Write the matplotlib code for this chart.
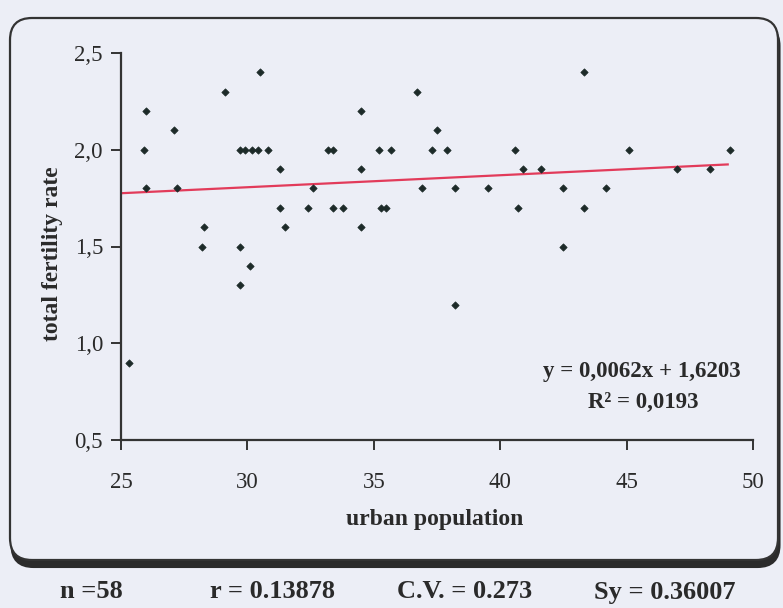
import matplotlib
matplotlib.use("Agg")
import matplotlib.pyplot as plt
from matplotlib.patches import FancyBboxPatch
import numpy as np

# ---- data ----
urban_population = [26.0, 25.9, 26.0, 27.1, 27.2, 29.1, 30.5, 28.3, 28.2, 29.7,
                    29.9, 30.2, 30.4, 30.8, 29.7, 30.1, 29.7, 31.3, 31.3, 31.5,
                    32.6, 32.4, 33.2, 33.4, 33.4, 33.8, 34.5, 34.5, 34.5, 35.2,
                    35.7, 35.3, 35.5, 36.7, 36.9, 37.3, 37.5, 37.9, 38.2, 39.5,
                    43.3, 40.6, 40.9, 41.6, 40.7, 42.5, 42.5, 43.3, 44.2, 45.1,
                    47.0, 48.3, 49.1, 38.2, 25.3]
fertility_rate = [2.2, 2.0, 1.8, 2.1, 1.8, 2.3, 2.4, 1.6, 1.5, 2.0,
                  2.0, 2.0, 2.0, 2.0, 1.5, 1.4, 1.3, 1.9, 1.7, 1.6,
                  1.8, 1.7, 2.0, 2.0, 1.7, 1.7, 2.2, 1.9, 1.6, 2.0,
                  2.0, 1.7, 1.7, 2.3, 1.8, 2.0, 2.1, 2.0, 1.8, 1.8,
                  2.4, 2.0, 1.9, 1.9, 1.7, 1.8, 1.5, 1.7, 1.8, 2.0,
                  1.9, 1.9, 2.0, 1.2, 0.9]
trend_slope = 0.0062
trend_intercept = 1.6203
trend_x_range = [25, 49]
x_ticks = [25, 30, 35, 40, 45, 50]
y_ticks = [0.5, 1.0, 1.5, 2.0, 2.5]
y_tick_labels = ["0,5", "1,0", "1,5", "2,0", "2,5"]
equation_text = "y = 0,0062x + 1,6203"
r2_text = "R\u00b2 = 0,0193"
stats_labels = ["n =58", "r = 0.13878", "C.V. = 0.273", "Sy = 0.36007"]

BG = "#eceef6"
INK = "#2a2a2a"
FONT = "Liberation Serif"

W, H = 783, 608
fig = plt.figure(figsize=(W / 100, H / 100), dpi=100, facecolor=BG)

# background overlay in pixel coordinates
bg = fig.add_axes([0, 0, 1, 1], zorder=0)
bg.set_xlim(0, W)
bg.set_ylim(H, 0)
bg.axis("off")
bg.set_facecolor(BG)

# frame with shadow (shadow mostly along the bottom edge)
shadow = FancyBboxPatch((11.5, 24), 768, 543, boxstyle="round,pad=0,rounding_size=22",
                        facecolor="#2b2b2b", edgecolor="#2b2b2b", lw=1.5)
frame = FancyBboxPatch((10, 18), 768, 542, boxstyle="round,pad=0,rounding_size=22",
                       facecolor=BG, edgecolor="#333333", lw=1.6)
bg.add_patch(shadow)
bg.add_patch(frame)

# stats row
for label, cx in zip(stats_labels, [91, 273, 465, 665]):
    bg.text(cx, 592, label, ha="center", va="center", fontsize=19,
            fontweight="bold", family=FONT, color=INK)

# ---- main chart ----
ax = fig.add_axes([121 / W, 1 - 440 / H, (753 - 121) / W, (440 - 53) / H], zorder=2)
ax.set_facecolor("none")
ax.scatter(urban_population, fertility_rate, marker="D", s=14,
           color="#1c2a28", edgecolors="#1c2a28", linewidths=0.5, zorder=3)
tx = np.array(trend_x_range, dtype=float)
ax.plot(tx, trend_slope * tx + trend_intercept, color="#e23b5a", lw=1.6, zorder=2)

ax.set_xlim(25, 50)
ax.set_ylim(0.5, 2.5)
ax.set_xticks(x_ticks)
ax.set_xticklabels([str(t) for t in x_ticks])
ax.set_yticks(y_ticks)
ax.set_yticklabels(y_tick_labels)
for s in ["top", "right"]:
    ax.spines[s].set_visible(False)
for s in ["left", "bottom"]:
    ax.spines[s].set_color("#333333")
    ax.spines[s].set_linewidth(1.6)
ax.tick_params(axis="both", direction="out", length=7, width=1.4, color="#333333",
               labelcolor=INK, labelsize=16.5)
ax.tick_params(axis="x", pad=16)
ax.tick_params(axis="y", pad=6)
for lab in ax.get_xticklabels() + ax.get_yticklabels():
    lab.set_family(FONT)

# axis labels (placed in pixel coords)
bg.text(53, 254, "total fertility rate", rotation=90, ha="center", va="center",
        fontsize=17, fontweight="bold", family=FONT, color=INK)
bg.text(435, 520, "urban population", ha="center", va="center",
        fontsize=17, fontweight="bold", family=FONT, color=INK)

# regression annotation
bg.text(642, 372, equation_text, ha="center", va="center", fontsize=16.5,
        fontweight="bold", family=FONT, color=INK)
bg.text(643, 402, r2_text, ha="center", va="center", fontsize=16.5,
        fontweight="bold", family=FONT, color=INK)

fig.savefig("out.png", dpi=100, facecolor=BG)
